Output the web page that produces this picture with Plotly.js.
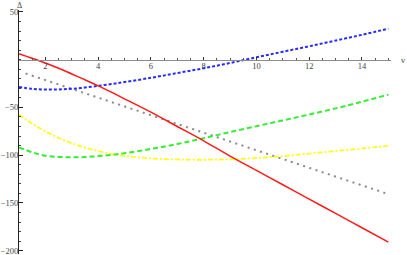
<!DOCTYPE html>
<html>
<head>
<meta charset="utf-8">
<script src="https://cdn.plot.ly/plotly-3.0.1.min.js"></script>
<style>html,body{margin:0;padding:0;background:#fff;}#chart{width:407px;height:255px;}</style>
</head>
<body>
<div id="chart"></div>
<script>
// Data
var nu = [1, 1.5, 2, 2.5, 3, 3.5, 4, 4.5, 5, 6, 7, 8, 9, 10, 11, 12, 13, 14, 15];
var redVals    = [6.3, 1.5, -3.5, -9, -15, -21, -27.5, -34, -41, -55, -70, -85, -101, -116, -131, -146, -161, -176, -191];
var blueVals   = [-28.6, -30.5, -31.3, -31.2, -30.5, -29.2, -27.5, -25.6, -23.5, -19, -14, -9, -3.5, 2.5, 8.3, 14, 20, 26, 32.5];
var greenVals  = [-91.8, -97, -100.5, -101.8, -102.3, -102, -101, -99.7, -98, -93.5, -88.3, -82.3, -75.8, -69.7, -63.6, -57.4, -51, -44, -36.6];
var yellowVals = [-57.6, -67, -75, -82, -87.5, -92, -95.8, -98.7, -100.8, -103.4, -104.5, -104.8, -104.3, -103, -101, -98.3, -95.7, -93, -90.2];
var grayNu   = [1.25, 15];
var grayVals = [-14.5, -140.8];
var xTicks = [2, 4, 6, 8, 10, 12, 14];
var yTicks = [50, -50, -100, -150, -200];
var yTickText = ["50", "\u221250", "\u2212100", "\u2212150", "\u2212200"];
var xLabel = "ν";
var yLabel = "Δ";

var yMin = -203.5, yMax = 52;
var tickFont = {family: "Liberation Serif, DejaVu Serif, serif", size: 8.5, color: "#444"};

var traces = [
  {x: grayNu, y: grayVals, mode: "lines", line: {color: "#8a8a8a", width: 2, dash: "2px,4.5px"}},
  {x: nu, y: yellowVals, mode: "lines", line: {color: "#ffff1a", width: 1.8, dash: "5px,2px,2px,2px", shape: "spline"}},
  {x: nu, y: greenVals, mode: "lines", line: {color: "#33ee33", width: 2, dash: "5px,3px", shape: "spline"}},
  {x: nu, y: blueVals, mode: "lines", line: {color: "#2a2aff", width: 2, dash: "3px,2px", shape: "spline"}},
  {x: nu, y: redVals, mode: "lines", line: {color: "#ff1a1a", width: 1.5, shape: "spline"}}
];

var layout = {
  width: 407, height: 255,
  margin: {l: 19, r: 16, t: 10, b: 1, pad: 0},
  showlegend: false,
  paper_bgcolor: "#fff", plot_bgcolor: "#fff",
  xaxis: {
    range: [1, 15.1], anchor: "free", position: (0 - yMin) / (yMax - yMin),
    showgrid: false, zeroline: false, showline: true, linecolor: "#8c8c8c", linewidth: 1.5,
    tickmode: "array", tickvals: xTicks, ticks: "inside", ticklen: 3, tickcolor: "#333", tickwidth: 1,
    minor: {dtick: 0.5, tick0: 0, ticks: "inside", ticklen: 2, tickcolor: "#555", showgrid: false},
    tickfont: tickFont, ticklabelstandoff: -2
  },
  yaxis: {
    range: [yMin, yMax],
    showgrid: false, zeroline: false, showline: true, linecolor: "#222", linewidth: 1,
    tickmode: "array", tickvals: yTicks, ticktext: yTickText, ticks: "inside", ticklen: 4, tickcolor: "#222",
    minor: {dtick: 10, tick0: 0, ticks: "inside", ticklen: 2, tickcolor: "#444", showgrid: false},
    tickfont: tickFont, ticklabelstandoff: -2, ticklabeloverflow: "allow"
  },
  annotations: [
    {text: xLabel, xref: "paper", yref: "y", x: 1.032, y: 0, showarrow: false, font: {family: "Liberation Serif, serif", size: 9, color: "#444"}, xanchor: "center", yanchor: "middle"},
    {text: yLabel, xref: "x", yref: "paper", x: 1, y: 1.02, showarrow: false, font: {family: "Liberation Serif, serif", size: 8, color: "#444"}, xanchor: "center", yanchor: "middle"}
  ]
};

Plotly.newPlot("chart", traces, layout, {displayModeBar: false, staticPlot: true});
</script>
</body>
</html>
